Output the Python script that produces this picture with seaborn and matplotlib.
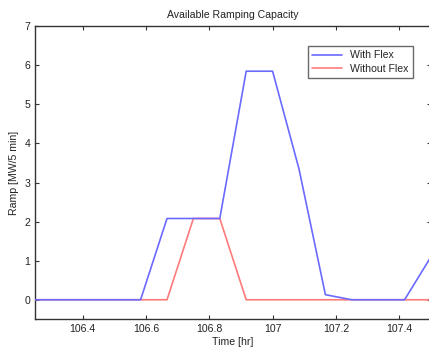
import matplotlib
matplotlib.use("Agg")
import matplotlib.pyplot as plt
import seaborn as sns
import pandas as pd

time_hr = [106.25, 106.3333, 106.4167, 106.5, 106.5833, 106.6667, 106.75, 106.8333,
           106.9167, 107.0, 107.0833, 107.1667, 107.25, 107.3333, 107.4167, 107.5]
with_flex = [0, 0, 0, 0, 0, 2.08, 2.08, 2.08, 5.85, 5.85, 3.35, 0.13, 0, 0, 0, 1.1]
without_flex = [0, 0, 0, 0, 0, 0, 2.08, 2.08, 0, 0, 0, 0, 0, 0, 0, 0]
series_names = ["With Flex", "Without Flex"]
x_ticks = [106.4, 106.6, 106.8, 107.0, 107.2, 107.4]
x_tick_labels = ["106.4", "106.6", "106.8", "107", "107.2", "107.4"]
y_ticks = [0, 1, 2, 3, 4, 5, 6, 7]

df = pd.DataFrame({
    "Time": time_hr * 2,
    "Ramp": with_flex + without_flex,
    "Series": [series_names[0]] * len(time_hr) + [series_names[1]] * len(time_hr),
})

sns.set_style("ticks")
plt.rcParams["font.family"] = ["Liberation Sans", "DejaVu Sans"]
fs = 7.6

fig = plt.figure(figsize=(4.29, 3.48), dpi=100)
ax = fig.add_axes([0.0816, 0.0825, 0.923, 0.842])
sns.lineplot(data=df, x="Time", y="Ramp", hue="Series",
             palette={"With Flex": "#6a6aff", "Without Flex": "#ff7a7a"},
             linewidth=1.2, ax=ax, sort=False)
# blue drawn over red, as in the reference
ax.lines[0].set_zorder(3)
ax.lines[1].set_zorder(2)

ax.set_xlim(106.25, 107.5)
ax.set_ylim(-0.5, 7)
ax.set_xticks(x_ticks)
ax.set_xticklabels(x_tick_labels)
ax.set_yticks(y_ticks)
ax.tick_params(direction="in", top=True, right=True, labelsize=fs, length=3,
               colors="#333333", labelcolor="#222222")
for s in ax.spines.values():
    s.set_visible(True)
    s.set_color("#333333")
    s.set_linewidth(1.0)

ax.set_title("Available Ramping Capacity", fontsize=fs, color="#222222", pad=6)
ax.set_xlabel("Time [hr]", fontsize=fs, color="#222222", labelpad=2)
ax.set_ylabel("Ramp [MW/5 min]", fontsize=fs, color="#222222", labelpad=4)

leg = ax.legend(loc="upper right", bbox_to_anchor=(0.968, 0.95), fontsize=fs,
                frameon=True, fancybox=False, edgecolor="#444444",
                handlelength=2.8, borderpad=0.4, labelspacing=0.3)
leg.get_frame().set_linewidth(1.0)

fig.savefig("out.png", dpi=100, facecolor="white")
